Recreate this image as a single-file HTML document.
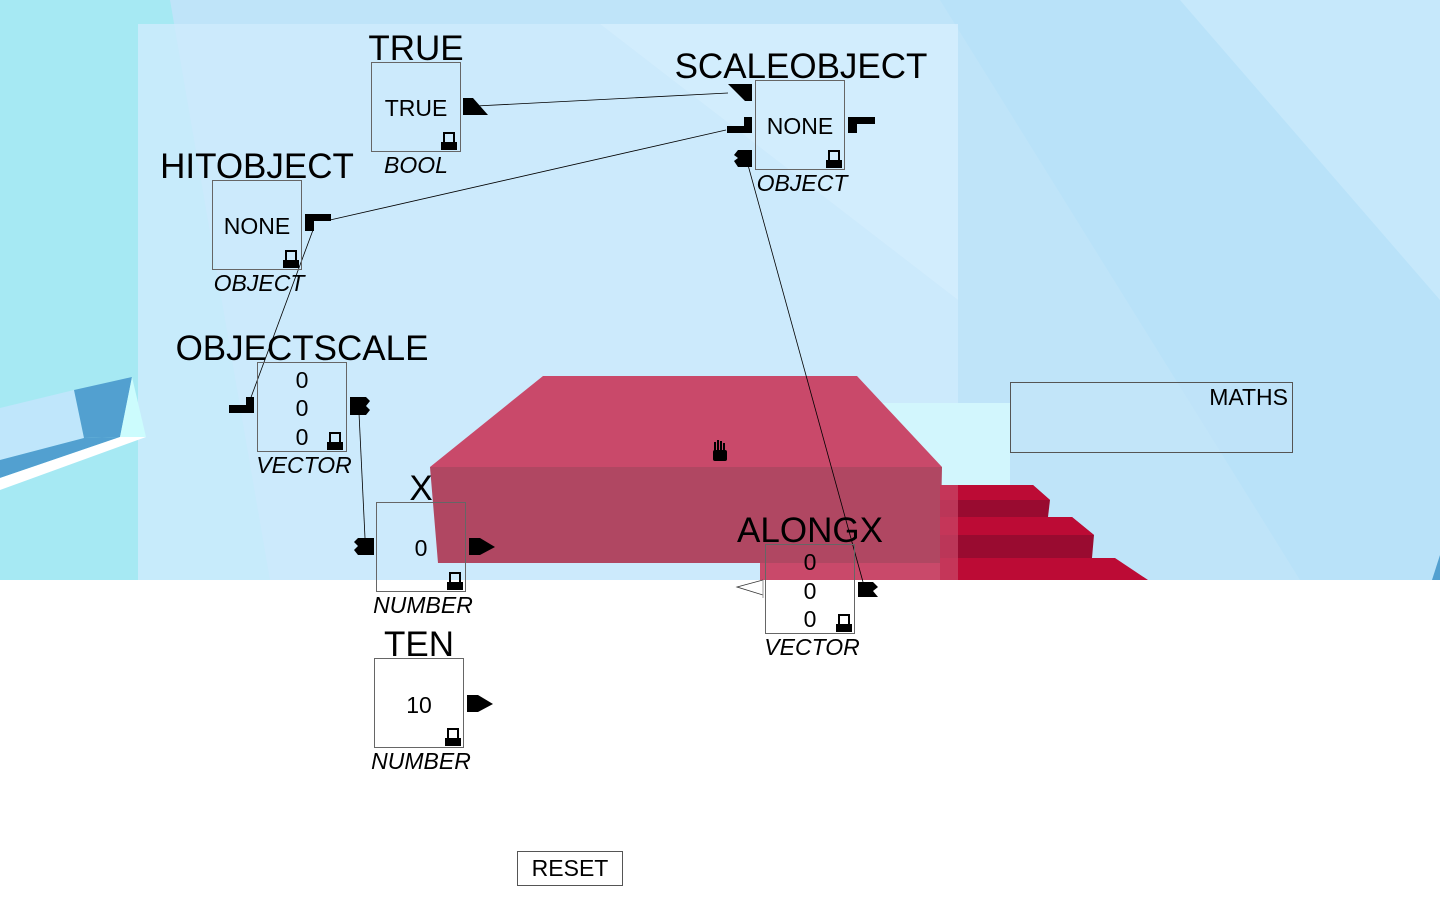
<!DOCTYPE html>
<html><head><style>
body{margin:0;width:1440px;height:900px;overflow:hidden;font-family:"Liberation Sans",sans-serif;background:#fff;position:relative}
.t{position:absolute;font-size:35px;color:#000;transform:translateX(-50%);white-space:nowrap;line-height:1}
.b{position:absolute;width:90px;height:90px;border:1px solid #666;box-sizing:border-box}
.v{position:absolute;font-size:23px;transform:translateX(-50%);line-height:1;white-space:nowrap}
.ty{position:absolute;font-size:23px;font-style:italic;transform:translateX(-50%);line-height:1;white-space:nowrap}
</style></head><body>
<svg width="1440" height="900" style="position:absolute;left:0;top:0">
<rect x="0" y="0" width="1440" height="580" fill="#bfe4f9"/>
<polygon points="0,0 170,0 270,580 0,580" fill="#a6e9f3"/>
<polygon points="940,0 1440,0 1440,580 1300,580" fill="#b9e2f9"/>
<polygon points="1180,0 1440,0 1440,300" fill="#c6e8fb"/>
<rect x="138" y="24" width="820" height="556" fill="#d0ebfc" opacity="0.8"/>
<polygon points="138,24 958,24 958,300 600,24" fill="#d8effd" opacity="0.5"/>
<polygon points="0,408 74,390 84,438 0,460" fill="#bfe6fb"/>
<polygon points="74,390 132,377 120,437 84,438" fill="#52a0d0"/>
<polygon points="0,460 84,438 120,437 0,478" fill="#52a0d0"/>
<polygon points="0,478 120,437 146,437 0,490" fill="#ffffff"/>
<polygon points="132,377 146,437 120,437" fill="#ccfcfd"/>
<rect x="857" y="403" width="153" height="82" fill="#d2f6fd"/>
<polygon points="543,376 857,376 942,467 430,467" fill="#c9496a"/>
<polygon points="430,467 942,467 940,563 438,563" fill="#b04762"/>
<polygon points="940,485 1033,485 1050,500 1048,517 940,517" fill="#990b30"/>
<polygon points="940,485 1033,485 1050,500 940,500" fill="#bc0b35"/>
<polygon points="940,517 1072,517 1094,535 1092,558 940,558" fill="#990b30"/>
<polygon points="940,517 1072,517 1094,535 940,535" fill="#bc0b35"/>
<polygon points="940,558 1115,558 1148,580 940,580" fill="#bc0b35"/>
<rect x="940" y="485" width="18" height="95" fill="#c9496a" opacity="0.7"/>
<rect x="760" y="563" width="180" height="17" fill="#c9496a"/>
<polygon points="1432,580 1440,555 1440,580" fill="#52a0d0"/>
<rect x="0" y="580" width="1440" height="320" fill="#fff"/>
<g stroke="#000" stroke-width="0.8" fill="none">
<line x1="476" y1="106" x2="728" y2="93"/>
<line x1="330" y1="220" x2="726" y2="130"/>
<line x1="313" y1="230" x2="250" y2="400"/>
<line x1="748" y1="165" x2="863" y2="582"/>
<line x1="359" y1="413" x2="365" y2="538"/>
</g>
<g fill="#000">
<polygon points="463,98 473,98 488,115 463,115"/>
<polygon points="728,84 752,84 752,101 745,101"/>
<polygon points="727,126 744,126 744,117 752,117 752,133 727,133"/>
<polygon points="738,150 752,150 752,167 738,167 734,161 738,158 734,155"/>
<polygon points="848,117 875,117 875,124 857,124 857,133 848,133"/>
<polygon points="305,214 331,214 331,221 314,221 314,231 305,231"/>
<polygon points="229,405 246,405 246,397 254,397 254,413 229,413"/>
<polygon points="350,397 366,397 370,401 366,406 370,410 366,415 350,415"/>
<polygon points="358,538 374,538 374,555 358,555 354,550 358,546 354,542"/>
<polygon points="469,538 480,538 495,547 480,555 469,555"/>
<polygon points="467,695 478,695 493,704 478,712 467,712"/>
<polygon points="858,582 873,582 878,587 873,591 878,597 858,597"/>
</g>
<polyline points="763,580 737,587 763,595" fill="none" stroke="#333" stroke-width="0.8"/>
<line x1="763" y1="580" x2="763" y2="598" stroke="#999"/>
<g fill="#000">
<rect x="441" y="142" width="16" height="8"/><rect x="444" y="133" width="10" height="10" fill="none" stroke="#000" stroke-width="2"/>
<rect x="826" y="160" width="16" height="8"/><rect x="829" y="151" width="10" height="10" fill="none" stroke="#000" stroke-width="2"/>
<rect x="283" y="260" width="16" height="8"/><rect x="286" y="251" width="10" height="10" fill="none" stroke="#000" stroke-width="2"/>
<rect x="327" y="442" width="16" height="8"/><rect x="330" y="433" width="10" height="10" fill="none" stroke="#000" stroke-width="2"/>
<rect x="447" y="582" width="16" height="8"/><rect x="450" y="573" width="10" height="10" fill="none" stroke="#000" stroke-width="2"/>
<rect x="445" y="738" width="16" height="8"/><rect x="448" y="729" width="10" height="10" fill="none" stroke="#000" stroke-width="2"/>
<rect x="836" y="624" width="16" height="8"/><rect x="839" y="615" width="10" height="10" fill="none" stroke="#000" stroke-width="2"/>
</g>
<g fill="#000"><rect x="713" y="450" width="14" height="11" rx="2"/><rect x="714" y="442" width="2" height="10"/><rect x="717" y="440" width="2" height="10"/><rect x="720" y="441" width="2" height="10"/><rect x="723" y="443" width="2" height="10"/></g>
</svg>

<div class="t" style="left:416px;top:31px">TRUE</div>
<div class="b" style="left:371px;top:62px"></div>
<div class="v" style="left:416px;top:97px">TRUE</div>
<div class="ty" style="left:416px;top:154px">BOOL</div>

<div class="t" style="left:801px;top:49px">SCALEOBJECT</div>
<div class="b" style="left:755px;top:80px"></div>
<div class="v" style="left:800px;top:115px">NONE</div>
<div class="ty" style="left:802px;top:172px">OBJECT</div>

<div class="t" style="left:257px;top:149px">HITOBJECT</div>
<div class="b" style="left:212px;top:180px"></div>
<div class="v" style="left:257px;top:215px">NONE</div>
<div class="ty" style="left:259px;top:272px">OBJECT</div>

<div class="t" style="left:302px;top:331px">OBJECTSCALE</div>
<div class="b" style="left:257px;top:362px"></div>
<div class="v" style="left:302px;top:369px">0</div>
<div class="v" style="left:302px;top:397px">0</div>
<div class="v" style="left:302px;top:426px">0</div>
<div class="ty" style="left:304px;top:454px">VECTOR</div>

<div class="t" style="left:421px;top:471px">X</div>
<div class="b" style="left:376px;top:502px"></div>
<div class="v" style="left:421px;top:537px">0</div>
<div class="ty" style="left:423px;top:594px">NUMBER</div>

<div class="t" style="left:419px;top:627px">TEN</div>
<div class="b" style="left:374px;top:658px"></div>
<div class="v" style="left:419px;top:694px">10</div>
<div class="ty" style="left:421px;top:750px">NUMBER</div>

<div class="t" style="left:810px;top:513px">ALONGX</div>
<div class="b" style="left:765px;top:544px"></div>
<div class="v" style="left:810px;top:551px">0</div>
<div class="v" style="left:810px;top:580px">0</div>
<div class="v" style="left:810px;top:608px">0</div>
<div class="ty" style="left:812px;top:636px">VECTOR</div>

<div style="position:absolute;left:1010px;top:382px;width:283px;height:71px;border:1px solid #555;box-sizing:border-box;background:rgba(200,230,250,0.4)"></div>
<div style="position:absolute;left:1100px;width:188px;top:384px;font-size:23px;text-align:right">MATHS</div>

<div style="position:absolute;left:517px;top:851px;width:106px;height:35px;border:1px solid #555;box-sizing:border-box;font-size:23px;text-align:center;line-height:33px">RESET</div>
</body></html>
